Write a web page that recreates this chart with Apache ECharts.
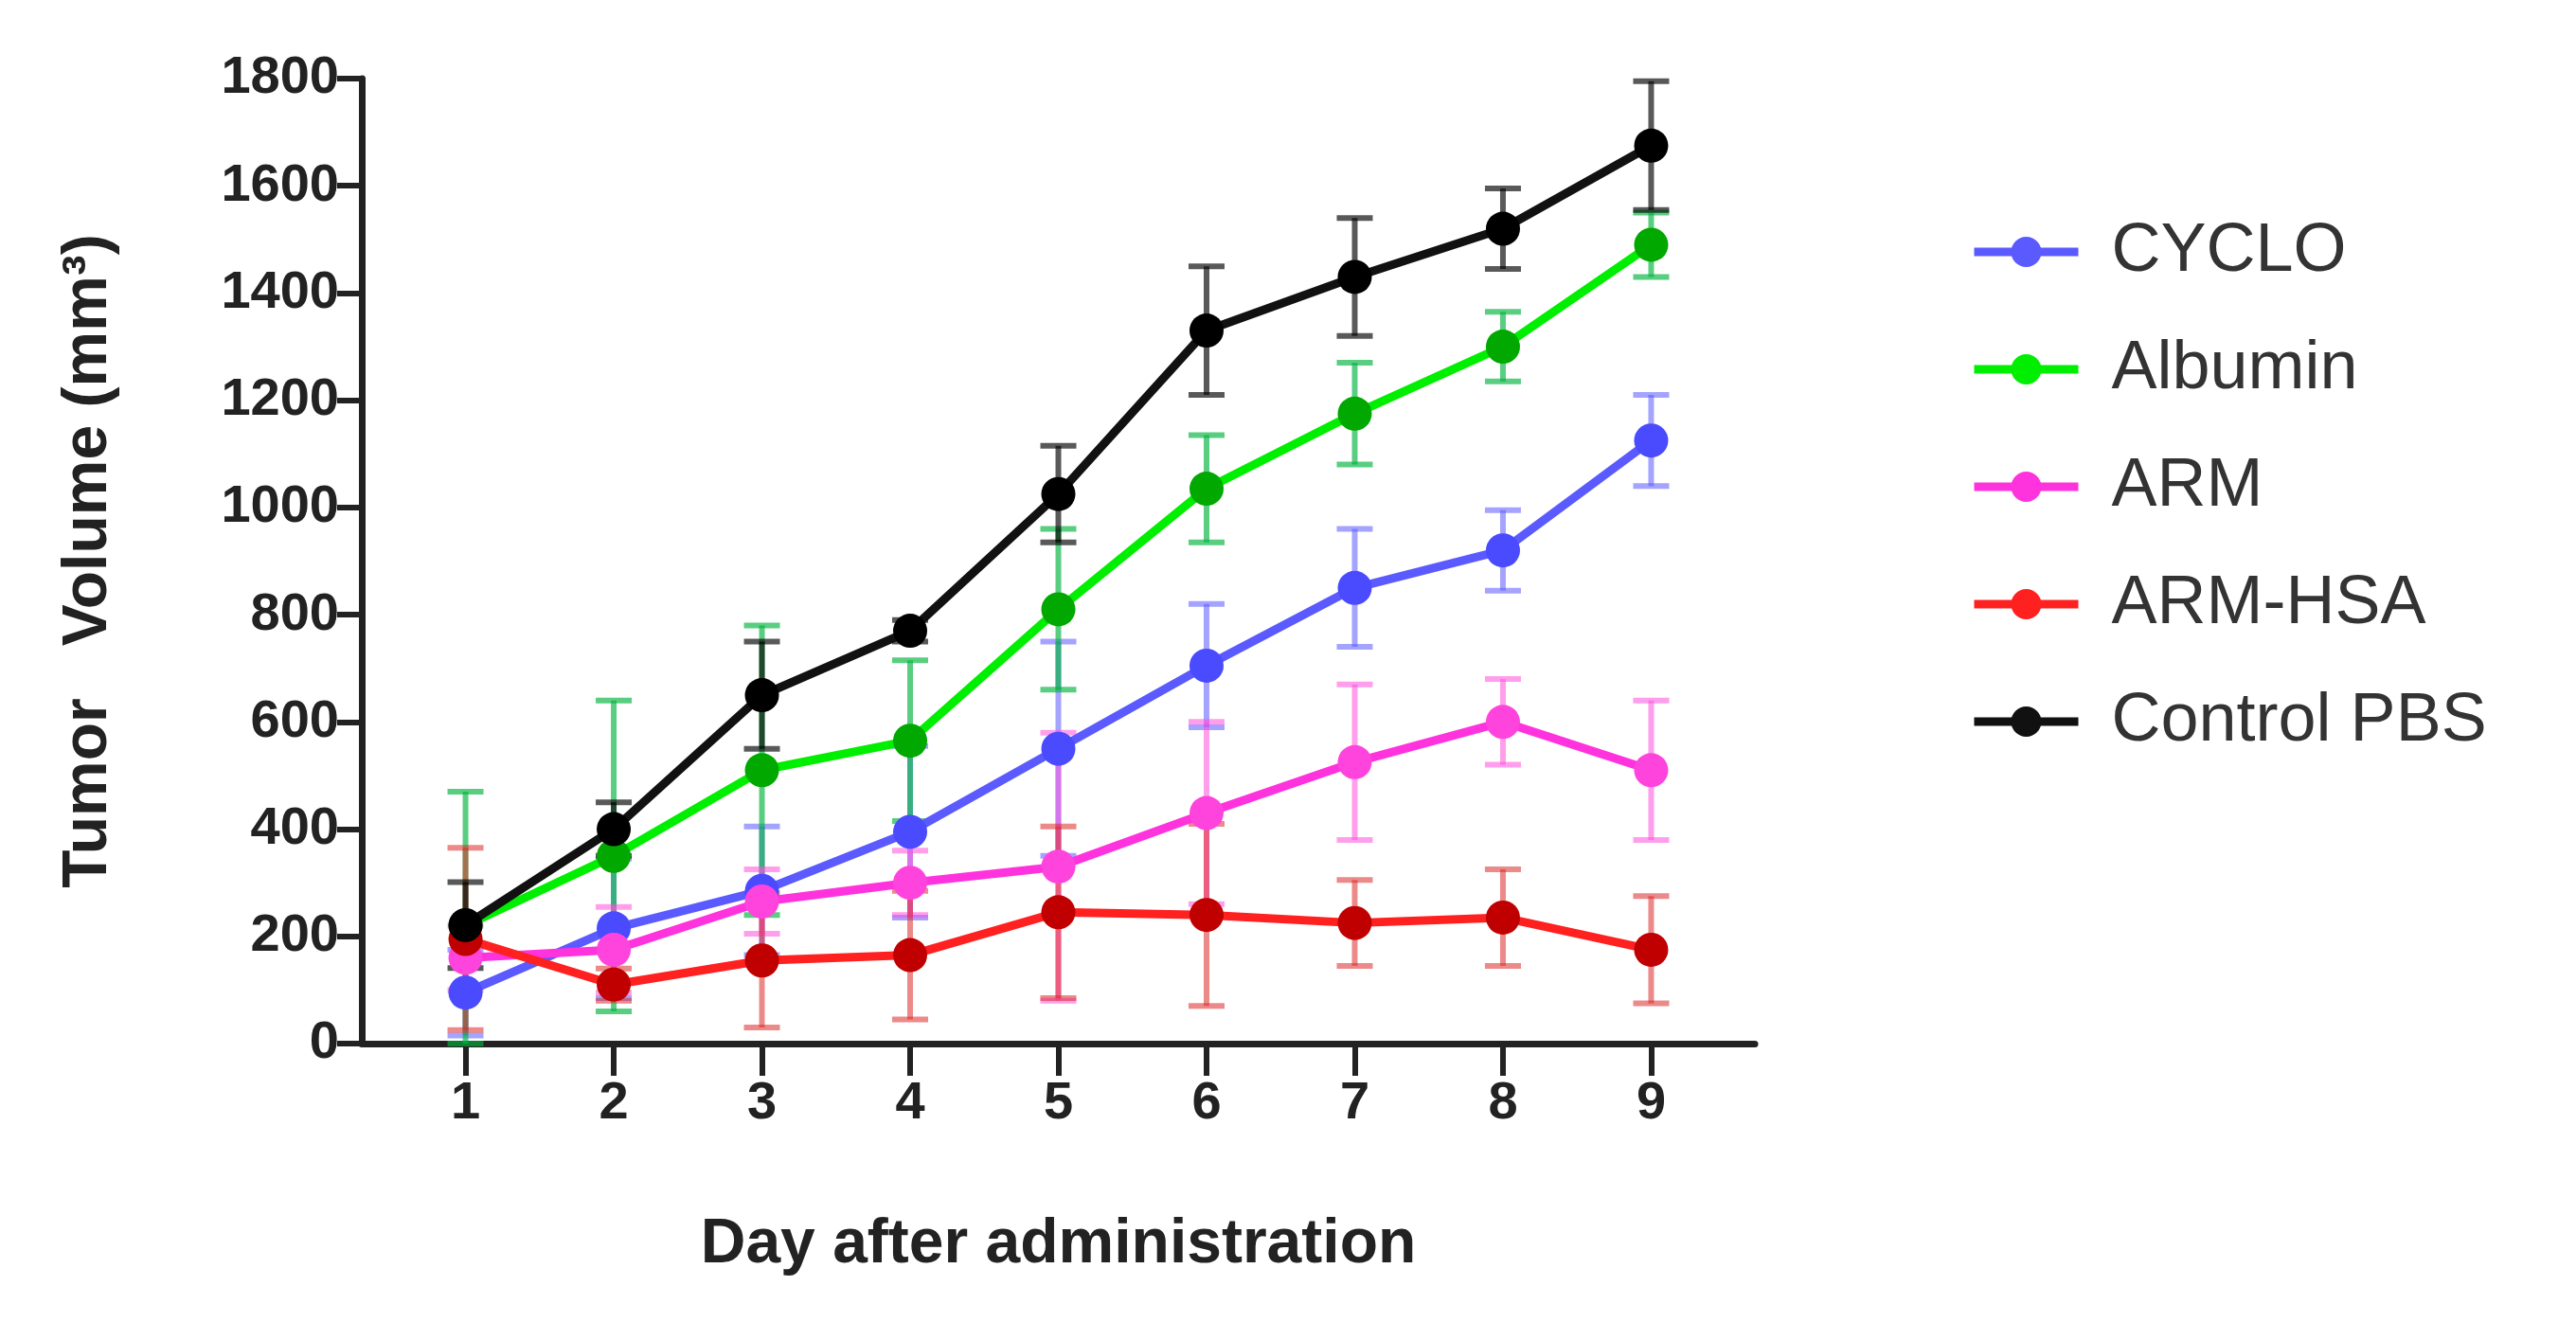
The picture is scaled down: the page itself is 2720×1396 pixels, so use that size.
<!DOCTYPE html>
<html><head><meta charset="utf-8">
<script src="https://cdn.jsdelivr.net/npm/echarts@6/dist/echarts.min.js"></script>
<style>html,body{margin:0;background:#fff}#c{width:2720px;height:1396px}</style>
</head><body><div id="c"></div>
<script>
const days = [1,2,3,4,5,6,7,8,9];
const cyclo = [95,215,285,395,550,705,850,920,1125];
const cycloErr = [80,130,120,160,200,115,110,75,85];
const albumin = [220,350,510,565,810,1035,1175,1300,1490];
const albuminErr = [250,290,270,150,150,100,95,65,60];
const arm = [160,175,265,300,330,430,525,600,510];
const armErr = [60,80,60,60,250,170,145,80,130];
const armHsa = [195,110,155,165,245,240,225,235,175];
const armHsaErr = [170,30,125,120,160,170,80,90,100];
const control = [221,400,650,770,1025,1330,1430,1520,1675];
const controlErr = [80,50,100,20,90,120,110,75,120];
const yTicks = [0,200,400,600,800,1000,1200,1400,1600,1800];

const groups = [
  {name:'CYCLO', v:cyclo, e:cycloErr, line:'#5a5aff', mark:'#4a4aff', err:'rgba(90,90,255,0.55)'},
  {name:'Albumin', v:albumin, e:albuminErr, line:'#00ee00', mark:'#00a800', err:'rgba(0,180,60,0.65)'},
  {name:'ARM', v:arm, e:armErr, line:'#ff33dd', mark:'#ff44dd', err:'rgba(255,80,220,0.55)'},
  {name:'ARM-HSA', v:armHsa, e:armHsaErr, line:'#ff2020', mark:'#c00000', err:'rgba(220,40,40,0.55)'},
  {name:'Control PBS', v:control, e:controlErr, line:'#111', mark:'#000', err:'rgba(0,0,0,0.65)'}
];
const series = [];
groups.forEach(g => {
  series.push({
    type:'custom', name:g.name+'_err', z:1,
    data: days.map((d,i)=>[d, g.v[i]-g.e[i], g.v[i]+g.e[i]]),
    renderItem:(p,api)=>{
      const lo = api.coord([api.value(0), Math.max(0,api.value(1))]);
      const hi = api.coord([api.value(0), api.value(2)]);
      const w = 19, st={stroke:g.err, lineWidth:6};
      return {type:'group', children:[
        {type:'line', shape:{x1:lo[0],y1:lo[1],x2:hi[0],y2:hi[1]}, style:st},
        {type:'line', shape:{x1:lo[0]-w,y1:lo[1],x2:lo[0]+w,y2:lo[1]}, style:st},
        {type:'line', shape:{x1:hi[0]-w,y1:hi[1],x2:hi[0]+w,y2:hi[1]}, style:st}
      ]};
    }
  });
  series.push({
    type:'line', name:g.name, z:3,
    data: days.map((d,i)=>[d,g.v[i]]),
    symbol:'circle', symbolSize:36,
    lineStyle:{color:g.line, width:9},
    itemStyle:{color:g.mark}
  });
});
const font = 'Liberation Sans, Arial';
const chart = echarts.init(document.getElementById('c'));
chart.setOption({
  animation:false,
  grid:{left:382, right:2720-1853, top:83, bottom:1396-1102},
  legend:{
    data: groups.map(g=>({name:g.name, itemStyle:{color:g.line}, lineStyle:{color:g.line, width:9}})),
    orient:'vertical', left:2075, top:225, itemGap:52, itemWidth:110, itemHeight:40,
    textStyle:{fontSize:72, color:'#333', fontFamily:font, padding:[0,0,0,30]}
  },
  xAxis:{
    type:'value', min:0.3, max:9.7,
    name:'Day after administration', nameLocation:'middle', nameGap:180,
    nameTextStyle:{fontSize:66, fontWeight:'bold', color:'#222', fontFamily:font},
    axisLine:{lineStyle:{color:'#222', width:7}},
    axisTick:{customValues:days, length:34, lineStyle:{color:'#222', width:6}},
    axisLabel:{customValues:days, fontSize:56, fontWeight:'bold', color:'#222', margin:36, fontFamily:font},
    splitLine:{show:false}
  },
  yAxis:{
    type:'value', min:0, max:1800, interval:200,
    name:'Tumor   Volume (mm³)', nameLocation:'middle', nameGap:255, nameRotate:90,
    nameTextStyle:{fontSize:66, fontWeight:'bold', color:'#222', fontFamily:font},
    axisLine:{show:true, lineStyle:{color:'#222', width:7}},
    axisTick:{show:true, length:26, lineStyle:{color:'#222', width:6}},
    axisLabel:{fontSize:56, fontWeight:'bold', color:'#222', margin:24, fontFamily:font,
      customValues: yTicks, formatter: v => String(v)},
    splitLine:{show:false}
  },
  series
});
</script></body></html>
